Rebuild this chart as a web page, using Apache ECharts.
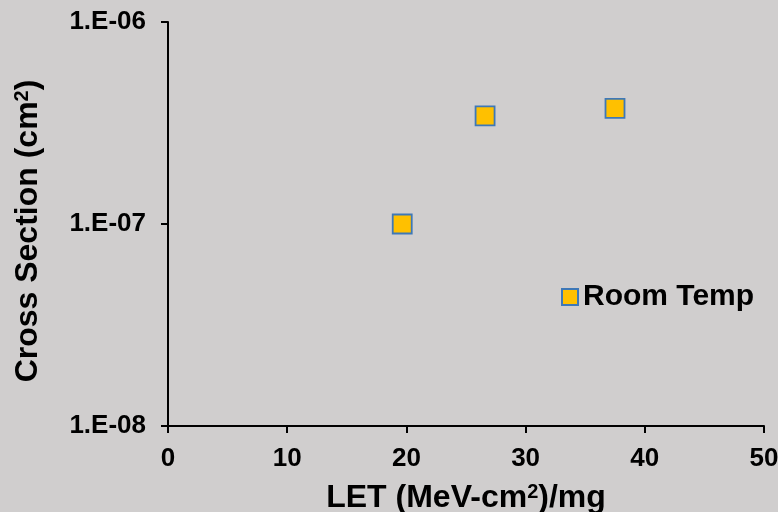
<!DOCTYPE html>
<html><head><meta charset="utf-8">
<script src="https://cdn.jsdelivr.net/npm/echarts@6/dist/echarts.min.js"></script>
<style>html,body{margin:0;padding:0;background:#d0cece}#c{width:778px;height:512px}</style>
</head><body><div id="c"></div>
<script>
var seriesName = 'Room Temp';
var letValues = [19.65, 26.6, 37.5];
var crossSection = [1.0e-7, 3.43e-7, 3.74e-7];
var xTitle = 'LET (MeV-cm{sup|2})/mg';
var yTitle = 'Cross Section (cm{sup|2})';
var font = "'Liberation Sans', Arial, sans-serif";

var supStyle = { fontFamily: font, fontWeight: 'bold', fontSize: 20, color: '#000', verticalAlign: 'top' };
var points = letValues.map(function (x, i) { return [x, crossSection[i]]; });
var chart = echarts.init(document.getElementById('c'));
chart.setOption({
  backgroundColor: '#d0cece',
  animation: false,
  grid: { left: 168, right: 14, top: 22, bottom: 86, containLabel: false, outerBoundsMode: 'none' },
  legend: {
    left: 561, top: 282, padding: 0,
    itemWidth: 16, itemHeight: 16, icon: 'rect',
    textStyle: { fontFamily: font, fontWeight: 'bold', fontSize: 30, color: '#000' },
    data: [seriesName]
  },
  xAxis: {
    type: 'value', min: 0, max: 50, interval: 10,
    name: xTitle, nameLocation: 'middle', nameGap: 56, nameMoveOverlap: false,
    nameTextStyle: { fontFamily: font, fontWeight: 'bold', fontSize: 32, color: '#000', rich: { sup: supStyle } },
    axisLine: { show: true, onZero: false, lineStyle: { color: '#000', width: 2 } },
    axisTick: { show: true, inside: false, length: 7, lineStyle: { color: '#000', width: 2 } },
    axisLabel: { fontFamily: font, fontWeight: 'bold', fontSize: 26, color: '#000', margin: 20 },
    splitLine: { show: false }
  },
  yAxis: {
    type: 'log', logBase: 10, min: 1e-8, max: 1e-6,
    name: yTitle, nameLocation: 'middle', nameGap: 124, nameRotate: 90, nameMoveOverlap: false,
    nameTextStyle: { fontFamily: font, fontWeight: 'bold', fontSize: 32, color: '#000', padding: [0, 14, 0, 0], rich: { sup: supStyle } },
    axisLine: { show: true, lineStyle: { color: '#000', width: 2 } },
    axisTick: { show: true, inside: false, length: 7, lineStyle: { color: '#000', width: 2 } },
    minorTick: { show: false },
    axisLabel: {
      fontFamily: font, fontWeight: 'bold', fontSize: 26, color: '#000', margin: 22,
      formatter: function (v) {
        var e = Math.round(Math.log10(v));
        var s = String(Math.abs(e)); if (s.length < 2) s = '0' + s;
        return '1.E' + (e < 0 ? '-' : '+') + s;
      }
    },
    splitLine: { show: false }
  },
  series: [{
    name: seriesName, type: 'scatter', data: points,
    symbol: 'rect', symbolSize: 19,
    itemStyle: { color: '#FFC000', borderColor: '#3E78B7', borderWidth: 1.8, opacity: 1 }
  }]
});
</script></body></html>
